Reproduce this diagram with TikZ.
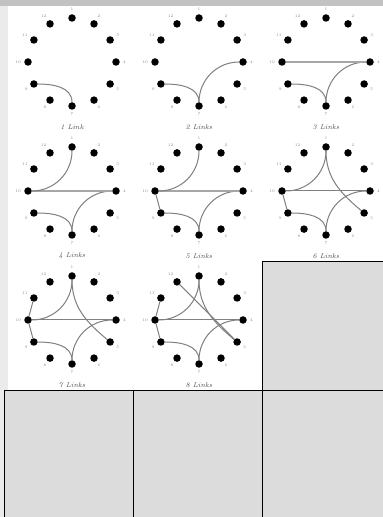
\documentclass[tikz,border=0pt]{standalone}
\usepackage{tikz}
\usetikzlibrary{calc}
\definecolor{cellgrey}{HTML}{DCDCDC}
\tikzset{
    % black dot on the ring of twelve
    ringdot/.style={circle, fill=black, inner sep=0pt, minimum size=7.5pt},
    % tiny number written next to each dot
    ringnum/.style={font=\fontsize{4}{4}\selectfont, text=black!45, inner sep=0pt},
    % a link between two dots
    link/.style={draw=black!50, line width=1pt},
    % the long horizontal link
    widelink/.style={draw=black!35, line width=1.6pt},
    % caption under each ring
    caption/.style={font=\fontsize{7}{7}\selectfont\itshape, text=black!70},
    % empty grey cells of the grid
    emptycell/.style={draw=black, fill=cellgrey, line width=0.8pt},
}
% twelve dots, numbered like a clock face: #1 prefix, (#2,#3) centre
\newcommand{\clockring}[3]{%
    \foreach \k in {1,...,12}{
        \pgfmathtruncatemacro{\ang}{90-30*(\k-1)}
        \node[ringdot, label={[ringnum, label distance=3pt]\ang:\k}]
            (#1\k) at ($(#2,#3)+(\ang:44)$) {};
    }
}

\begin{document}
\begin{tikzpicture}[x=1pt, y=1pt]
    \useasboundingbox (0,0) rectangle (383,517);

    % ---- page background ----
    \fill[black!8] (0,0) rectangle (383,517);
    \fill[white] (8,127) rectangle (383,511);
    \fill[black!24] (0,511) rectangle (383,517);

    % ---- empty cells ----
    \draw[emptycell] (262,127) rectangle (385,256);
    \draw[emptycell] (4,-2) rectangle (133,127);
    \draw[emptycell] (133,-2) rectangle (262,127);
    \draw[emptycell] (262,-2) rectangle (385,127);

    % ---- rings ----
    \foreach \p/\cx/\cy in {a/72/455, b/199/455, c/326/455,
                            d/72/326, e/199/326, f/326/326,
                            g/72/197, h/199/197}{
        \clockring{\p}{\cx}{\cy}
    }

    % ---- captions ----
    \foreach \n/\cx/\cy/\txt in {1/72/390/1 Link, 2/199/390/2 Links, 3/326/390/3 Links,
                                 4/72/261/4 Links, 5/199/261/5 Links, 6/326/261/6 Links,
                                 7/72/132/7 Links, 8/199/132/8 Links}{
        \node[caption] (cap\n) at (\cx,\cy) {\txt};
    }

    % ---- links ----
    % 1 link
    \draw[link] (a9) to[out=0, in=90] (a7);
    % 2 links
    \draw[link] (b9) to[out=0, in=90] (b7);
    \draw[link] (b7) to[out=90, in=180] (b4);
    % 3 links
    \draw[link] (c9) to[out=0, in=90] (c7);
    \draw[link] (c7) to[out=90, in=180] (c4);
    \draw[widelink] (c10) -- (c4);
    % 4 links
    \draw[link] (d9) to[out=0, in=90] (d7);
    \draw[link] (d7) to[out=90, in=180] (d4);
    \draw[widelink] (d10) -- (d4);
    \draw[link] (d1) to[out=-90, in=0] (d10);
    % 5 links
    \draw[link] (e9) to[out=0, in=90] (e7);
    \draw[link] (e7) to[out=90, in=180] (e4);
    \draw[widelink] (e10) -- (e4);
    \draw[link] (e1) to[out=-90, in=0] (e10);
    \draw[link] (e10) -- (e9);
    % 6 links
    \draw[link] (f9) to[out=0, in=90] (f7);
    \draw[link] (f7) to[out=90, in=180] (f4);
    \draw[link] (f10) -- (f4);
    \draw[link] (f1) to[out=-90, in=0] (f10);
    \draw[link] (f10) -- (f9);
    \draw[link] (f1) to[out=-90, in=140] (f5);
    % 7 links
    \draw[link] (g9) to[out=0, in=90] (g7);
    \draw[link] (g7) to[out=90, in=180] (g4);
    \draw[link] (g10) -- (g4);
    \draw[link] (g1) to[out=-90, in=0] (g10);
    \draw[link] (g10) -- (g9);
    \draw[link] (g1) to[out=-90, in=140] (g5);
    \draw[link] (g11) -- (g10);
    % 8 links
    \draw[link] (h9) to[out=0, in=90] (h7);
    \draw[link] (h7) to[out=90, in=180] (h4);
    \draw[link] (h10) -- (h4);
    \draw[link] (h1) to[out=-90, in=0] (h10);
    \draw[link] (h10) -- (h9);
    \draw[link] (h1) to[out=-90, in=140] (h5);
    \draw[link] (h11) -- (h10);
    \draw[link] (h12) -- (h5);

\end{tikzpicture}
\end{document}
